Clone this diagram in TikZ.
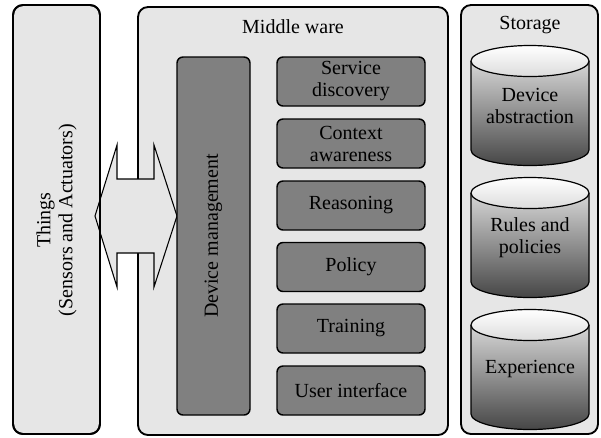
\documentclass[tikz,border=0pt]{standalone}
\usepackage{fontspec}
\setmainfont{Liberation Serif}
\usepackage{tikz}
\usetikzlibrary{calc}

\tikzset{
  panel/.style={draw=black,line width=1.4pt,fill={rgb,255:red,230;green,230;blue,230},rounded corners=7.5pt},
  module/.style={draw=black,line width=1.1pt,fill={rgb,255:red,128;green,128;blue,128},rounded corners=4.5pt,
                 minimum width=111pt,minimum height=36.75pt,align=center,inner sep=0pt},
  label/.style={font=\fontsize{15}{16.5}\selectfont,align=center,inner sep=0pt},
}

\begin{document}
\begin{tikzpicture}[x=0.75pt,y=0.75pt,yscale=-1,xscale=1]
\useasboundingbox (0,0) rectangle (601,437);

%Panels
\draw[panel] (138,7) rectangle (448,435);
\draw[panel] (13,5) rectangle (100,434);
\draw[panel] (461,5) rectangle (598,434);

%Double arrow
\draw[line width=0.8pt,fill={rgb,255:red,230;green,230;blue,230},line join=miter]
  (95,216) -- (117,145) -- (117,179) -- (154,179) -- (154,145) -- (177,216)
  -- (154,287) -- (154,253) -- (117,253) -- (117,287) -- cycle;
\draw[line width=1.4pt,rounded corners=7.5pt] (13,5) rectangle (100,434);

% Text Node
\node[label] (mwtitle) at (293,27) {Middle ware};
% Text Node
\node[label] (sttitle) at (530,25) {Storage};
% Text Node
\node[label,rotate=90] (things) at (56.5,220) {Things\\(Sensors and Actuators)};

%Device management
\node[module,minimum width=54.75pt,minimum height=268.5pt] (devmgmt) at (213.5,236) {};
\node[label,rotate=90] (devmgmtlbl) at (devmgmt.center) {Device management};

%Middle ware modules
\node[module,label] (discovery) at (351,81.5) {Service\\discovery};
\node[module,label] (context) at (351,143.5) {Context\\awareness};
\node[module,label] (reasoning) at (351,205.5) {Reasoning};
\node[module,label] (policy) at (351,267) {Policy};
\node[module,label] (training) at (351,328.5) {Training};
\node[module,label] (userif) at (351,390.5) {User interface};

%Storage cylinders
\foreach \ytop/\nm/\txt in {61/devabs/{Device\\abstraction},193/rules/{Rules and\\policies},325/experience/{Experience}}{
  \path[top color={rgb,255:red,215;green,215;blue,215},bottom color={rgb,255:red,70;green,70;blue,70}]
    (471,\ytop) -- (471,\ytop+89) arc[start angle=180,end angle=0,x radius=59,y radius=15.5] -- (589,\ytop) -- cycle;
  \draw[line width=0.9pt] (471,\ytop) -- (471,\ytop+89) arc[start angle=180,end angle=0,x radius=59,y radius=15.5] -- (589,\ytop);
  \draw[line width=0.9pt,top color=white,bottom color={rgb,255:red,220;green,220;blue,220}] (530,\ytop) ellipse[x radius=59,y radius=15.5];
  \node[label] (\nm) at (530,\ytop+44.5) {\txt};
}

\end{tikzpicture}
\end{document}
